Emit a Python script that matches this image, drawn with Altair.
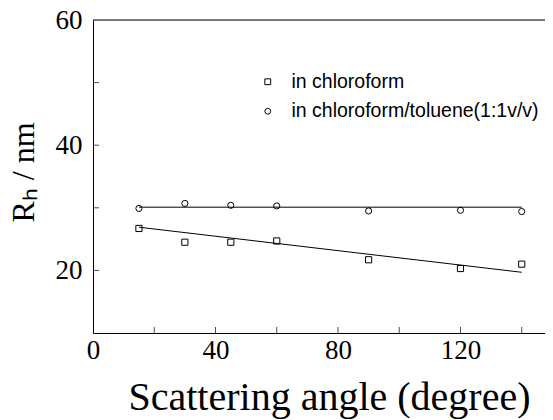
import altair as alt
import pandas as pd

# Data
angles = [15, 30, 45, 60, 90, 120, 140]
rh_chloroform = [26.7, 24.5, 24.5, 24.7, 21.7, 20.3, 21.0]
rh_mixture = [29.9, 30.7, 30.4, 30.3, 29.5, 29.6, 29.4]

fit_angles = [15, 140]
fit_chloroform = [26.9, 19.7]
fit_mixture = [30.1, 30.1]

series_names = ["in chloroform", "in chloroform/toluene(1:1v/v)"]

x_label_values = [0, 40, 80, 120]
y_label_values = [20, 40, 60]
x_minor_ticks = [20, 40, 60, 80, 100, 120, 140]
y_minor_ticks = [20, 30, 40, 50]

W, H = 452, 313

points = pd.DataFrame({
    "angle": angles * 2,
    "rh": rh_chloroform + rh_mixture,
    "series": [series_names[0]] * len(angles) + [series_names[1]] * len(angles),
})
fits = pd.DataFrame({
    "angle": fit_angles * 2,
    "rh": fit_chloroform + fit_mixture,
    "series": [series_names[0]] * 2 + [series_names[1]] * 2,
})

xscale = alt.Scale(domain=[0, 147.6], nice=False, zero=False)
yscale = alt.Scale(domain=[10, 60], nice=False, zero=False)

serif = "Liberation Serif"

xaxis = alt.Axis(values=x_label_values, tickSize=0, grid=False, labelFlush=False,
                 labelFont=serif, labelFontSize=27, labelColor="black",
                 labelPadding=4, domainColor="black", domainWidth=1,
                 title="Scattering angle (degree)", titleFont=serif,
                 titleFontSize=40, titleFontWeight="normal", titleColor="black",
                 titleX=236, titleY=76, titleBaseline="alphabetic",
                 titleAlign="center")
yaxis = alt.Axis(values=y_label_values, tickSize=0, grid=False, labelFlush=False,
                 labelFont=serif, labelFontSize=27, labelColor="black",
                 labelPadding=11, domainColor="black", domainWidth=1,
                 title="Rₕ / nm", titleFont=serif, titleFontSize=32,
                 titleFontWeight="normal", titleColor="black",
                 titleAngle=270, titleX=-60, titleY=152,
                 titleBaseline="alphabetic", titleAlign="center")

shape_scale = alt.Scale(domain=series_names, range=["square", "circle"])

pts = alt.Chart(points).mark_point(filled=False, color="black", strokeWidth=1,
                                   opacity=1, size=38).encode(
    x=alt.X("angle:Q", scale=xscale, axis=xaxis),
    y=alt.Y("rh:Q", scale=yscale, axis=yaxis),
    shape=alt.Shape("series:N", scale=shape_scale,
                    legend=alt.Legend(title=None, orient="none", legendX=165, legendY=52,
                                      labelFont="Liberation Sans", labelFontSize=19.5,
                                      labelColor="black", symbolSize=34, labelLimit=500,
                                      symbolStrokeColor="black", symbolFillColor="white",
                                      symbolStrokeWidth=1, labelOffset=14, rowPadding=8.5)),
)

lines = alt.Chart(fits).mark_line(color="black", strokeWidth=1).encode(
    x=alt.X("angle:Q", scale=xscale),
    y=alt.Y("rh:Q", scale=yscale),
    detail="series:N",
)

ytick_df = pd.DataFrame({"v": y_minor_ticks})
xtick_df = pd.DataFrame({"v": x_minor_ticks})

yticks = alt.Chart(ytick_df).mark_tick(orient="horizontal", color="black", thickness=1, size=6).encode(
    y=alt.Y("v:Q", scale=yscale), x=alt.value(3))
xticks = alt.Chart(xtick_df).mark_tick(orient="vertical", color="black", thickness=1, size=6).encode(
    x=alt.X("v:Q", scale=xscale), y=alt.value(H - 3))

top_frame = alt.Chart(pd.DataFrame({"v": [60]})).mark_rule(color="black", strokeWidth=1).encode(
    y=alt.Y("v:Q", scale=yscale), x=alt.value(0), x2=alt.value(W))

chart = alt.layer(lines, pts, yticks, xticks, top_frame).properties(
    width=W, height=H,
    autosize=alt.AutoSizeParams(type="none"),
    padding={"left": 85, "top": 12, "right": 0, "bottom": 87},
).configure_view(stroke=None).configure(background="white")

chart.save("out.html", embed_options={"renderer": "svg", "actions": False})
